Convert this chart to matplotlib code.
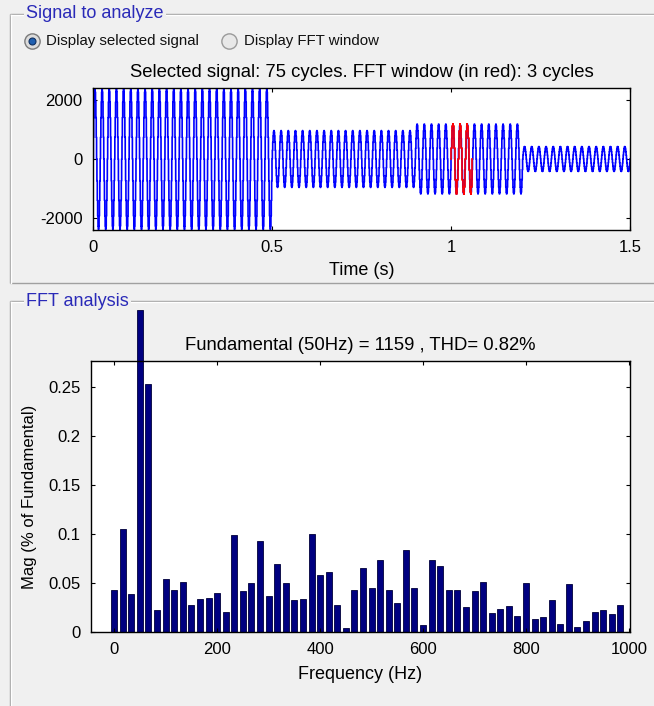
import matplotlib
matplotlib.use("Agg")
import matplotlib.pyplot as plt
import numpy as np

plt.rcParams['font.family'] = ['Liberation Sans', 'DejaVu Sans']
plt.rcParams['axes.unicode_minus'] = False

# signal to analyze: 50 Hz waveform, envelope
f0 = 50.0
seg_start = [0.0, 0.5, 0.9, 1.2]
seg_end = [0.5, 0.9, 1.2, 1.5]
seg_amp = [2380, 960, 1180, 420]
fft_start = 1.0
fft_cycles = 3

time_ticks = [0, 0.5, 1, 1.5]
time_labels = ['0', '0.5', '1', '1.5']
sig_ticks = [-2000, 0, 2000]
sig_labels = ['-2000', '0', '2000']

# FFT magnitudes (% of fundamental), one bar per 50/3 Hz bin
mags = [0.043, 0.105, 0.039, 0.329, 0.253, 0.022, 0.054, 0.043, 0.051, 0.028,
        0.034, 0.035, 0.040, 0.020, 0.099, 0.042, 0.050, 0.093, 0.037, 0.070,
        0.050, 0.033, 0.034, 0.100, 0.058, 0.061, 0.028, 0.004, 0.043, 0.065,
        0.045, 0.074, 0.043, 0.030, 0.084, 0.045, 0.007, 0.074, 0.067, 0.043,
        0.043, 0.026, 0.042, 0.051, 0.019, 0.024, 0.027, 0.016, 0.050, 0.013,
        0.015, 0.033, 0.008, 0.049, 0.005, 0.011, 0.020, 0.022, 0.018, 0.028]
freq_ticks = [0, 200, 400, 600, 800, 1000]
mag_ticks = [0, 0.05, 0.1, 0.15, 0.2, 0.25]
mag_labels = ['0', '0.05', '0.1', '0.15', '0.2', '0.25']

W, H = 654, 706
bg = '#f0f0f0'
blue_title = '#2a2ab8'

fig = plt.figure(figsize=(W / 100, H / 100), dpi=100, facecolor=bg)

# overlay in pixel coords for panels and radio buttons
deco = fig.add_axes([0, 0, 1, 1], zorder=0)
deco.set_xlim(0, W)
deco.set_ylim(H, 0)
deco.axis('off')

def groupbox(x0, y0, y1, title):
    kw = dict(color='#a0a0a0', lw=1, solid_capstyle='butt')
    ybot = y1 if y1 is not None else H + 5
    deco.plot([x0, W + 5], [y0, y0], **kw)
    deco.plot([x0, x0], [y0, ybot], **kw)
    if y1 is not None:
        deco.plot([x0, W + 5], [y1, y1], **kw)
    deco.plot([x0 + 1, W + 5], [y0 + 1, y0 + 1], color='white', lw=1)
    deco.plot([x0 + 1, x0 + 1], [y0 + 1, ybot], color='white', lw=1)
    deco.text(x0 + 17, y0, title, fontsize=13, color=blue_title, va='center', ha='left',
              bbox=dict(boxstyle='square,pad=0.12', fc=bg, ec='none'))

groupbox(9.5, 14, 283, 'Signal to analyze')
groupbox(9.5, 301, None, 'FFT analysis')

# radio buttons
deco.plot([32], [41], 'o', ms=11, mfc='#dcdcdc', mec='#7a7a7a', mew=1)
deco.plot([32], [41], 'o', ms=5, mfc='#1f5fb0', mec='#103060', mew=0.8)
deco.text(46, 41, 'Display selected signal', fontsize=10.8, va='center', ha='left', color='#111111')
deco.plot([229], [41], 'o', ms=11, mfc='#e8e8e8', mec='#9a9a9a', mew=1)
deco.text(244, 41, 'Display FFT window', fontsize=10.8, va='center', ha='left', color='#111111')

def style_axes(ax):
    ax.tick_params(direction='in', length=3, width=0.8, top=True, right=True, labelsize=12, pad=7.5)
    for s in ax.spines.values():
        s.set_linewidth(1.0)

# signal axes
ax1 = fig.add_axes([93 / W, 1 - 230 / H, 537 / W, 142 / H], zorder=1)
dt = 1 / 1000
t = np.arange(0, 1.5 + dt / 2, dt)
env = np.zeros_like(t)
for a, b, amp in zip(seg_start, seg_end, seg_amp):
    env[(t >= a) & (t < b + dt / 2)] = amp
sig = env * np.sin(2 * np.pi * f0 * t)
ax1.plot(t, sig, color='#0000ff', lw=1.2, drawstyle='steps-post')
win = (t >= fft_start) & (t <= fft_start + fft_cycles / f0)
ax1.plot(t[win], sig[win], color='#ff0000', lw=1.2, drawstyle='steps-post')
ax1.set_xlim(0, 1.5)
ax1.set_ylim(-2400, 2400)
ax1.set_xticks(time_ticks)
ax1.set_xticklabels(time_labels)
ax1.set_yticks(sig_ticks)
ax1.set_yticklabels(sig_labels)
ax1.set_xlabel('Time (s)', fontsize=13, labelpad=5)
ax1.set_title('Selected signal: %d cycles. FFT window (in red): %d cycles' % (round(1.5 * f0), fft_cycles),
              fontsize=13.3, pad=8)
style_axes(ax1)

# FFT axes
ax2 = fig.add_axes([91 / W, 1 - 632 / H, 539 / W, 271 / H], zorder=1)
df = f0 / fft_cycles
freqs = np.arange(len(mags)) * df
bars = ax2.bar(freqs, mags, width=0.7 * df, color='#000080', edgecolor='#00003a', linewidth=0.6)
for b in bars:
    b.set_clip_on(False)
ax2.set_xlim(-45, 1002)
ax2.set_ylim(0, 0.277)
ax2.set_xticks(freq_ticks)
ax2.set_yticks(mag_ticks)
ax2.set_yticklabels(mag_labels)
ax2.set_xlabel('Frequency (Hz)', fontsize=13, labelpad=6)
ax2.set_ylabel('Mag (% of Fundamental)', fontsize=12, labelpad=8)
ax2.set_title('Fundamental (50Hz) = 1159 , THD= 0.82%', fontsize=13.3, pad=8)
style_axes(ax2)

fig.savefig('out.png', dpi=100, facecolor=bg)
